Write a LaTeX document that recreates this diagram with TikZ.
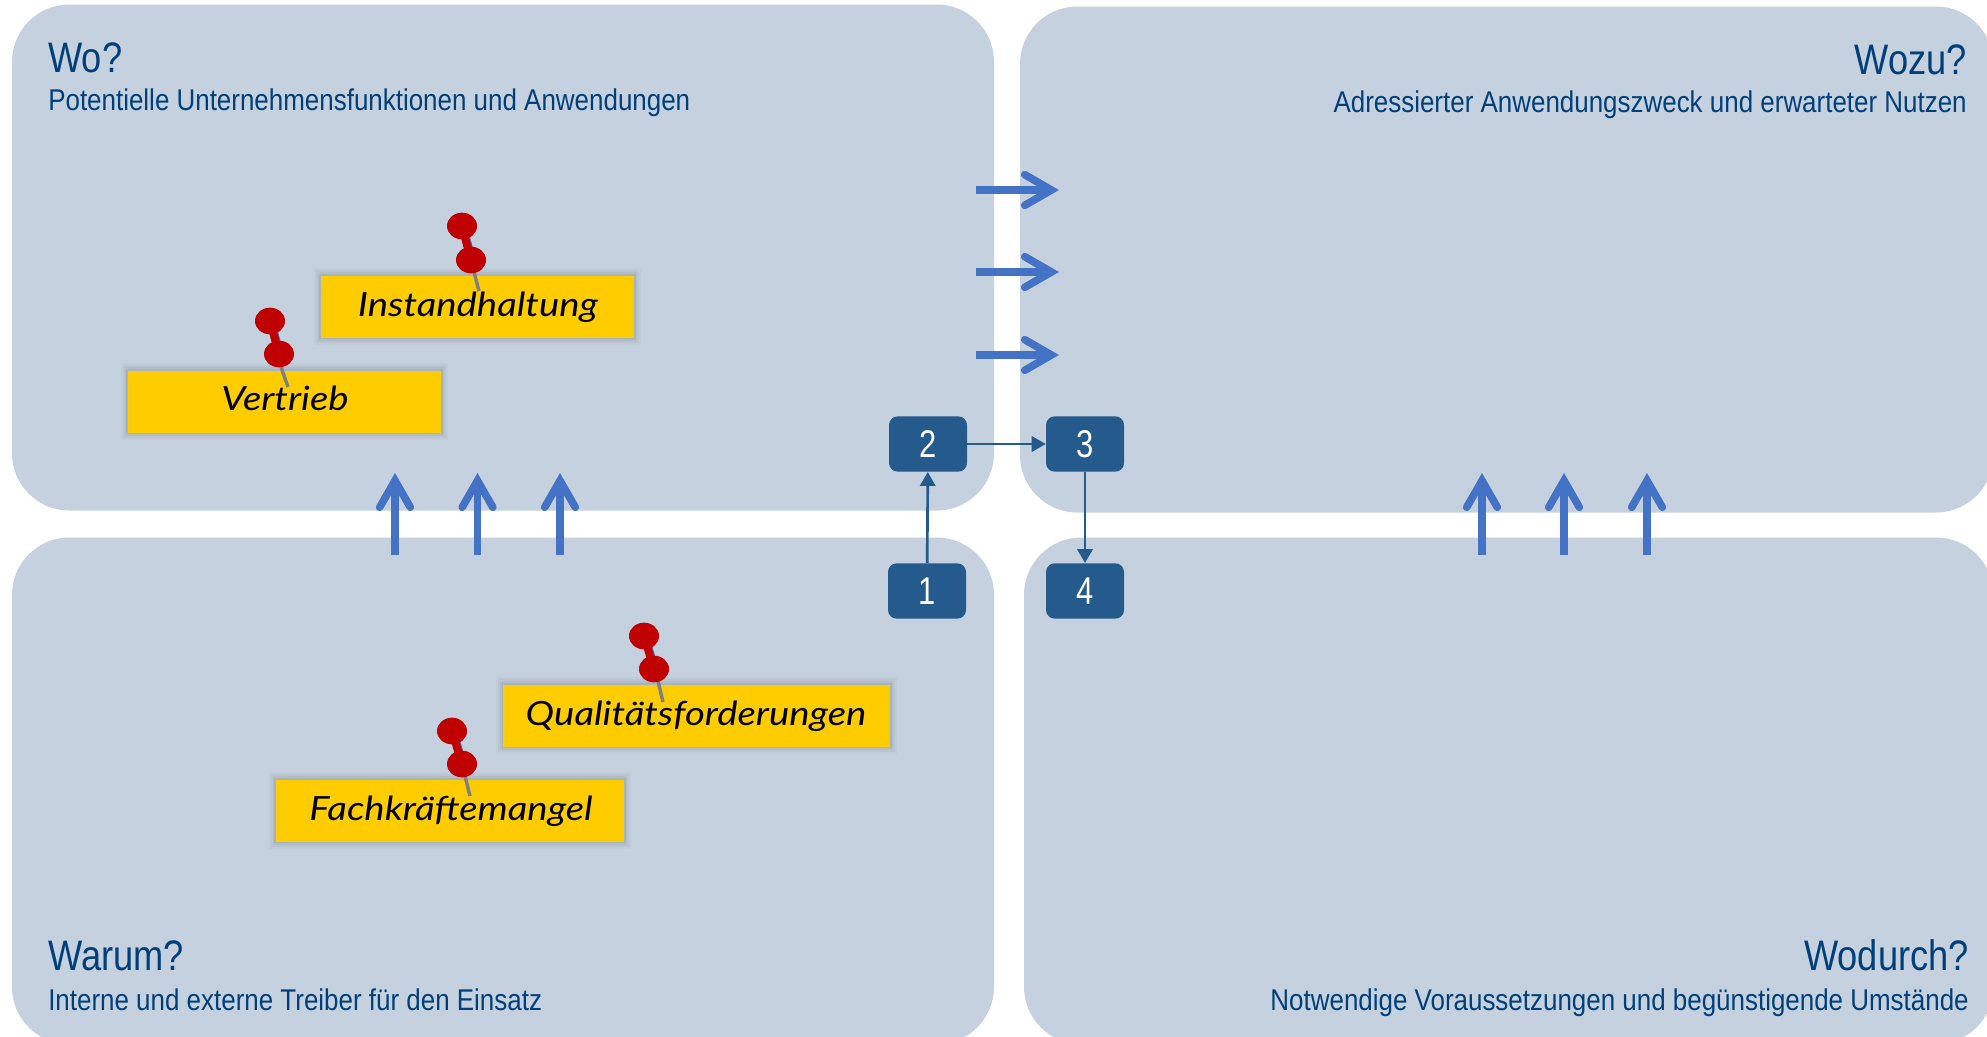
\documentclass[tikz,border=0pt]{standalone}
\usepackage{fontspec}
\usetikzlibrary{arrows.meta}
\setmainfont[FakeStretch=0.80]{Liberation Sans}
\newfontfamily\titlefont[FakeStretch=0.85]{Liberation Sans}
\newfontfamily\subfont[FakeStretch=0.865]{Liberation Sans}
\newfontfamily\handfont[ItalicFont=* Italic,FakeStretch=1.15]{Lato}
\definecolor{panelc}{HTML}{C5D1DE}
\definecolor{headc}{HTML}{00407A}
\definecolor{flowc}{HTML}{4472C4}
\definecolor{stepc}{HTML}{255A8C}
\definecolor{notec}{HTML}{FFCC00}
\definecolor{pinc}{HTML}{C00000}
\tikzset{
 x=0.75pt,y=-0.75pt,
 panel/.style={fill=panelc,rounded corners=43pt,inner sep=0,outer sep=0},
 titletext/.style={text=headc,font=\titlefont\fontsize{32}{36}\selectfont,inner sep=0},
 subtext/.style={text=headc,font=\subfont\fontsize{22.5}{26}\selectfont,inner sep=0},
 stepbox/.style={fill=stepc,rounded corners=6.5pt,minimum width=58.5pt,minimum height=41.5pt,inner sep=0,text=white,font=\fontsize{29}{32}\selectfont},
 stepflow/.style={draw=stepc,line width=2pt,-{Triangle[length=10.5pt,width=11.5pt]}},
 flow/.style={draw=flowc,line width=5.7pt,-{Straight Barb[length=20pt,width=23pt,line cap=round,line join=miter]}},
 notebox/.style={fill=notec,minimum height=46.5pt,inner sep=0,
   preaction={draw=black,opacity=.025,line width=11pt},
   preaction={draw=black,opacity=.03,line width=8pt},
   preaction={draw=black,opacity=.04,line width=5pt},
   preaction={draw=black,opacity=.05,line width=2.5pt}},
 notetext/.style={inner sep=0,text=black,font=\handfont\itshape\fontsize{25}{28}\selectfont},
}
\newcommand{\drawpin}[8]{%
  \draw[line width=2.6pt,color=gray] (#5,#6+1) -- (#7,#8+1);
  \draw[line width=6pt,color=flowc] (#1+1,#2+1) -- (#3+1,#4+1);
  \draw[line width=6pt,color=pinc] (#1,#2+1) -- (#3,#4+1);
  \fill[pinc] (#1,#2+1) ellipse [x radius=11.25pt,y radius=10pt];
  \fill[pinc] (#3,#4+1) ellipse [x radius=11.25pt,y radius=10pt];
}
\newcommand{\upflow}[1]{\draw[flow] (#1,555) -- (#1,473);}
\newcommand{\rightflow}[1]{\draw[flow] (976,#1) -- (1059,#1);}
\begin{document}
\begin{tikzpicture}
\useasboundingbox (0,0) rectangle (1987,1036);
\fill[white] (0,0) rectangle (1987,1036);
\clip (0,0) rectangle (1987,1036);
% panels
\node[panel,anchor=north west,minimum width=736.5pt,minimum height=379.5pt] (wo) at (12,4.5) {};
\node[panel,anchor=north west,minimum width=730pt,minimum height=379.5pt] (wozu) at (1020,6.5) {};
\node[panel,anchor=north west,minimum width=736.5pt,minimum height=380pt] (warum) at (12,537.5) {};
\node[panel,anchor=north west,minimum width=727pt,minimum height=380pt] (wodurch) at (1024,537.5) {};
% headings
\node[titletext,anchor=base west] (t1) at (48,72) {Wo?};
\node[subtext,anchor=base west] (s1) at (48,110) {Potentielle Unternehmensfunktionen und Anwendungen};
\node[titletext,anchor=base east] (t2) at (1967,74) {Wozu?};
\node[subtext,anchor=base east] (s2) at (1967,112) {Adressierter Anwendungszweck und erwarteter Nutzen};
\node[titletext,anchor=base west] (t3) at (48,970) {Warum?};
\node[subtext,anchor=base west] (s3) at (48,1010) {Interne und externe Treiber für den Einsatz};
\node[titletext,anchor=base east] (t4) at (1969,970) {Wodurch?};
\node[subtext,anchor=base east] (s4) at (1969,1010) {Notwendige Voraussetzungen und begünstigende Umstände};
% flow arrows
\foreach \p in {395,477.5,560,1482,1564,1647} {\upflow{\p}}
\foreach \p in {190,272,355} {\rightflow{\p}}
% steps
\node[stepbox] (n2) at (928,444) {2};
\node[stepbox] (n3) at (1085,444) {3};
\node[stepbox] (n1) at (927,591) {1};
\node[stepbox] (n4) at (1085,591) {4};
\draw[stepflow] (n1) -- (n2);
\draw[stepflow] (n2) -- (n3);
\draw[stepflow] (n3) -- (n4);
% notes
\node[notebox,minimum width=234.75pt] (b1) at (477.5,306.5) {};
\node[notebox,minimum width=234.75pt] (b2) at (284.5,401.5) {};
\node[notebox,minimum width=290pt] (b3) at (696.5,715.5) {};
\node[notebox,minimum width=261pt] (b4) at (450,810.5) {};
\node[notetext,anchor=base] (l1) at (478,316) {Instandhaltung};
\node[notetext,anchor=base] (l2) at (285,410) {Vertrieb};
\node[notetext,anchor=base] (l3) at (696,725) {Qualitätsforderungen};
\node[notetext,anchor=base] (l4) at (451,820) {Fachkräftemangel};
\drawpin{462}{225}{471}{259}{474}{271}{479}{290}
\drawpin{270}{320}{279}{353}{281}{366}{288}{386}
\drawpin{644}{635}{654}{668}{658}{680}{663}{701}
\drawpin{452}{730}{462}{763}{465}{775}{470}{795}
\end{tikzpicture}
\end{document}
